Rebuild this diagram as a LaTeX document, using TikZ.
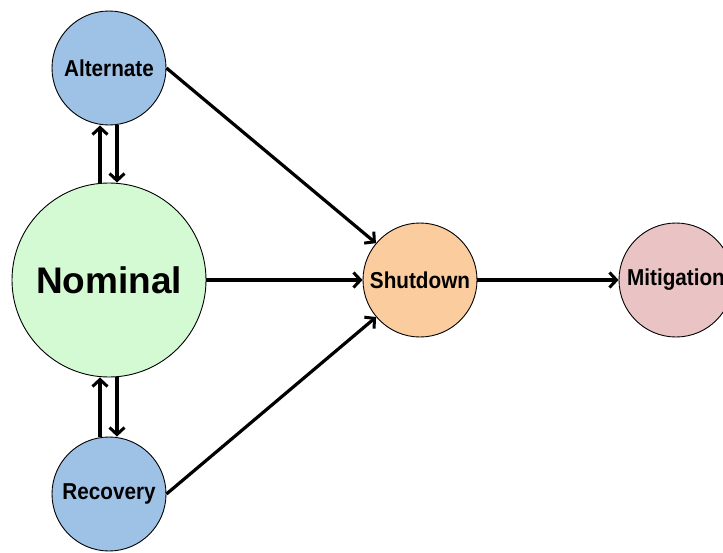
\documentclass[tikz,border=0pt]{standalone}
\usepackage{fontspec}
\setmainfont{Liberation Sans}
\newfontfamily\narrowsans{Liberation Sans}[FakeStretch=0.9]
\usetikzlibrary{arrows.meta}
\usetikzlibrary{positioning}

\definecolor{altblue}{RGB}{158,194,230}
\definecolor{nomgreen}{RGB}{212,250,212}
\definecolor{shutorange}{RGB}{250,204,158}
\definecolor{mitpink}{RGB}{234,196,196}

\tikzset{
  state/.style={circle,draw=black,line width=0.9pt,inner sep=0pt,
    font=\narrowsans\fontsize{23}{26}\selectfont\bfseries},
  trans/.style={line width=3.2pt,-{Straight Barb[length=7pt,width=15pt,line width=3pt]}}
}

\begin{document}
\begin{tikzpicture}[x=1pt,y=-1pt]

  \useasboundingbox (0,0) rectangle (723,552);

	%draw states
 \def\r{57};
    \foreach \x/\y/\col/\name/\txt in { 109/68/altblue/Alternate/Alternate, 109/494/altblue/Recovery/Recovery,
        420/280/shutorange/Shutdown/Shutdown, 676/280/mitpink/Mitigation/Mitigation}{
         \node[state,fill=\col,minimum size=2*\r] (\name) at (\x,\y) {\txt};
    }

    \node[state,fill=nomgreen,minimum size=194,font=\fontsize{37}{40}\selectfont\bfseries] (Nominal) at (109,280) {Nominal};

%transitions
    \draw[trans] ([xshift=-9]Nominal.north) -- ([xshift=-9]Alternate.south);
    \draw[trans] ([xshift=8]Alternate.south) -- ([xshift=8]Nominal.north);
    \draw[trans] ([xshift=-9]Recovery.north) -- ([xshift=-9]Nominal.south);
    \draw[trans] ([xshift=8]Nominal.south) -- ([xshift=8]Recovery.north);

    \draw[trans] (Alternate.east) -- (Shutdown);
    \draw[trans] (Nominal) -- (Shutdown);
    \draw[trans] (Recovery.east) -- (Shutdown);
    \draw[trans] (Shutdown) -- (Mitigation);

\end{tikzpicture}
\end{document}
